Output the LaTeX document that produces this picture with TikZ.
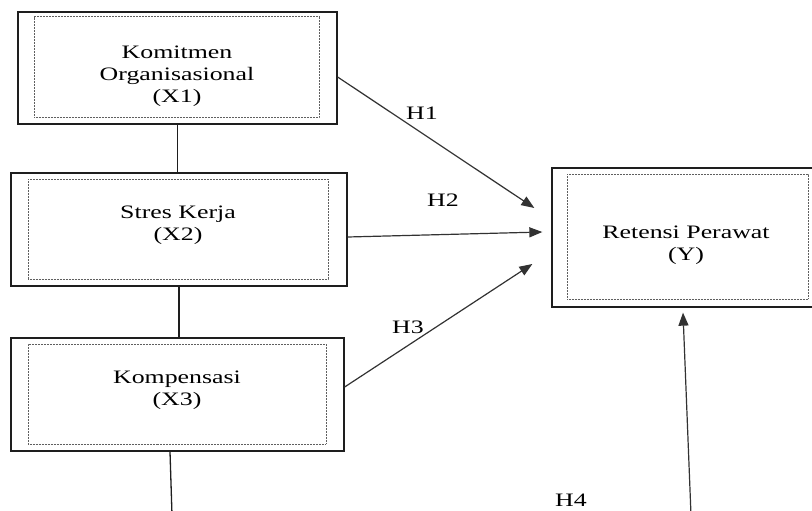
\documentclass[tikz,border=0pt]{standalone}
\usepackage{fontspec}
\setmainfont[FakeStretch=1.36]{Liberation Serif}
\usetikzlibrary{arrows.meta,positioning,calc}
\definecolor{frameline}{RGB}{30,30,30}
\definecolor{dotline}{RGB}{95,95,95}
\definecolor{pathline}{RGB}{50,50,50}
\tikzset{
  outerbox/.style={draw=frameline,line width=1.3pt,inner sep=0pt},
  innerbox/.style={draw=dotline,line width=1pt,dash pattern=on 0.9pt off 0.6pt,inner sep=0pt},
  boxtext/.style={align=center,font=\fontsize{19}{22}\selectfont,inner sep=0pt},
  hyptext/.style={font=\fontsize{19}{22}\selectfont,inner sep=0pt},
  linkline/.style={draw=frameline,line width=1.3pt},
  hyparrow/.style={draw=pathline,line width=1.2pt,-{Triangle[length=13pt,width=10pt]}}
}

\begin{document}
\begin{tikzpicture}[x=1pt,y=-1pt]
		\useasboundingbox (0,0) rectangle (812,511);
		\clip (0,0) rectangle (812,511);
		% variables
		\node[outerbox,minimum width=319,minimum height=112] (ko) at (177.5,68) {};
		\node[innerbox,minimum width=285,minimum height=101] (koin) at (176.5,67.5) {};
		\node[boxtext] (kotext) at (177,76) {Komitmen\\Organisasional\\(X1)};
		\node[outerbox,minimum width=336,minimum height=113] (sk) at (179,229.5) {};
		\node[innerbox,minimum width=300,minimum height=100] (skin) at (178,229) {};
		\node[boxtext] (sktext) at (178,225) {Stres Kerja\\(X2)};
		\node[outerbox,minimum width=333,minimum height=113] (kp) at (177.5,394.5) {};
		\node[innerbox,minimum width=298,minimum height=100] (kpin) at (177,394) {};
		\node[boxtext] (kptext) at (177,390) {Kompensasi\\(X3)};
		\node[outerbox,minimum width=278,minimum height=139] (rp) at (691,237.5) {};
		\node[innerbox,minimum width=241,minimum height=125] (rpin) at (687.5,236.5) {};
		\node[boxtext] (rptext) at (686,245) {Retensi Perawat\\(Y)};
		% free ends
		\coordinate (kpend) at (172,515);
		\coordinate (h4start) at (691,515);
		\coordinate (h1tip) at ($(rp.west)+(-17,-29.5)$);
		\coordinate (h2tip) at ($(rp.west)+(-9,-5.5)$);
		\coordinate (h3tip) at ($(rp.west)+(-19,26.5)$);
		% links between variables
		\draw[linkline] (ko.south) -- (ko.south |- sk.north);
		\draw[linkline] (sk.south) -- (sk.south |- kp.north);
		\draw[linkline] ([xshift=-7.5pt]kp.south) -- (kpend);
		% hypotheses
		\draw[hyparrow] ([yshift=-9pt]ko.east) -- (h1tip);
		\draw[hyparrow] ([yshift=-7.5pt]sk.east) -- (h2tip);
		\draw[hyparrow] ([yshift=7.5pt]kp.east) -- (h3tip);
		\draw[hyparrow] (h4start) -- ([xshift=-8pt,yshift=-5pt]rp.south);
		\node[hyptext] (h1) at (422,113) {H1};
		\node[hyptext] (h2) at (443,200) {H2};
		\node[hyptext] (h3) at (408,327) {H3};
		\node[hyptext] (h4) at (571,500) {H4};
\end{tikzpicture}
\end{document}
